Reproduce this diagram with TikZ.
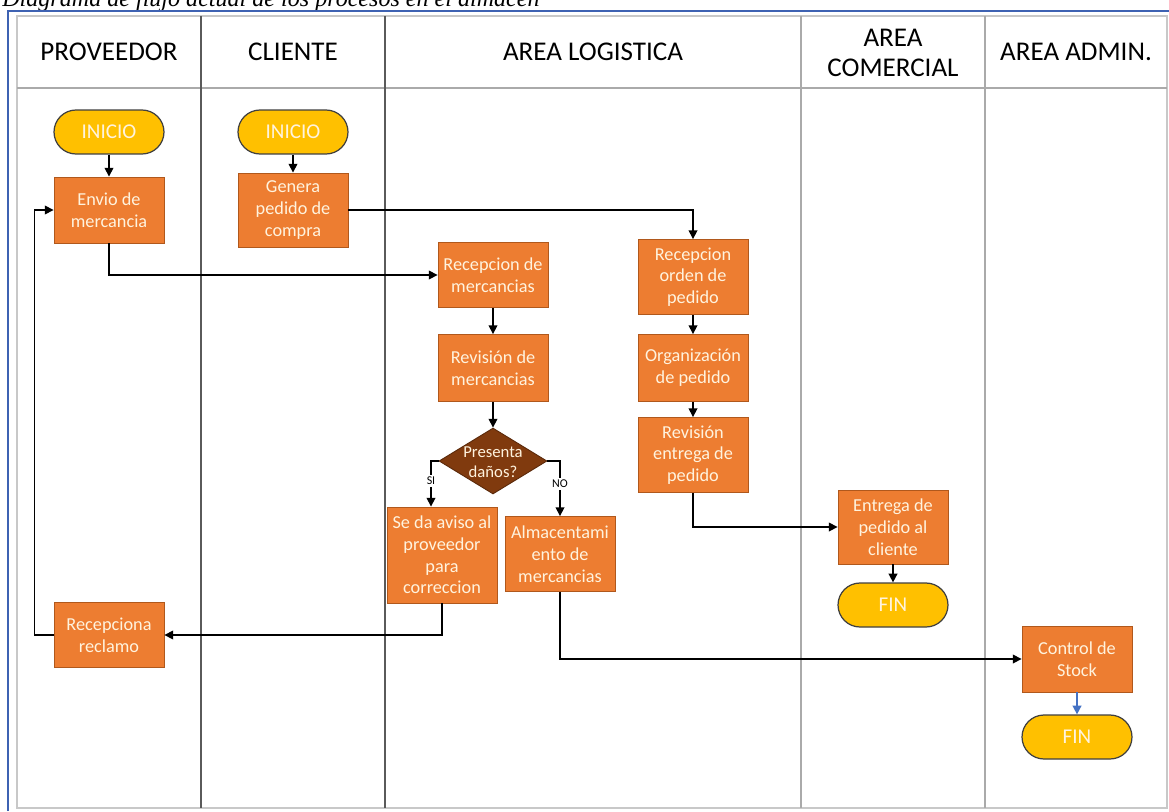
\documentclass[tikz,border=0pt]{standalone}
\usepackage{fontspec}
\setmainfont{Carlito}
\newfontfamily\captionfont{Liberation Serif}
\usetikzlibrary{shapes.geometric,arrows.meta,calc}

\definecolor{boxorange}{RGB}{237,125,49}
\definecolor{boxedge}{RGB}{176,88,28}
\definecolor{capsulefill}{RGB}{255,192,0}
\definecolor{decisionfill}{RGB}{128,58,14}
\definecolor{boxtext}{RGB}{255,243,222}
\definecolor{frameblue}{RGB}{62,98,178}
\definecolor{flowblue}{RGB}{68,114,196}
\definecolor{lanedark}{RGB}{90,90,90}
\definecolor{lanelight}{RGB}{170,170,170}
\definecolor{tableedge}{RGB}{200,200,200}

\tikzset{
  process/.style={rectangle, fill=boxorange, draw=boxedge, line width=0.5pt,
    minimum width=2.2cm, inner sep=0pt, align=center, text=boxtext,
    font=\fontsize{10.4}{12.4}\selectfont},
  terminal/.style={rectangle, rounded corners=0.44cm, fill=capsulefill,
    draw=black!75, line width=0.7pt, minimum width=2.2cm, minimum height=0.88cm,
    inner sep=0pt, text=boxtext, font=\fontsize{12}{14}\selectfont},
  decision/.style={diamond, fill=decisionfill, draw=decisionfill!70!black,
    line width=0.5pt, minimum width=2.16cm, minimum height=1.32cm, inner sep=0pt},
  decisiontext/.style={inner sep=0pt, align=center, text=boxtext,
    font=\fontsize{9.5}{11.2}\selectfont},
  lanehead/.style={inner sep=0pt, align=center, font=\fontsize{15.4}{17.5}\selectfont},
  branchlabel/.style={fill=white, inner sep=1pt, font=\fontsize{6.8}{8}\selectfont},
  flow/.style={-{Triangle[length=5pt,width=5pt]}, line width=0.85pt, draw=black},
  flowb/.style={-{Triangle[length=5pt,width=5pt]}, line width=0.85pt, draw=flowblue}
}

\begin{document}
\begin{tikzpicture}[x=0.02cm,y=-0.02cm]
  \useasboundingbox (0,0) rectangle (1169,811);
  \fill[white] (0,0) rectangle (1169,811);

  % caption above the frame
  \node[anchor=base west, inner sep=0pt,
        font=\captionfont\itshape\fontsize{13.7}{16}\selectfont] (caption) at (2,7)
        {Diagrama de flujo actual de los procesos en el almacén};

  % blue frame (top and left)
  \draw[frameblue, line width=1.4pt] (8,811) -- (8,11) -- (1169,11);

  % swimlane table
  \draw[tableedge, line width=0.6pt] (17,16) rectangle (1167,808);
  \draw[lanelight, line width=0.6pt] (17,88) -- (1167,88);
  \draw[lanedark, line width=0.7pt] (201,16) -- (201,808);
  \draw[lanedark, line width=0.7pt] (385,16) -- (385,808);
  \draw[lanelight, line width=0.7pt] (801,16) -- (801,808);
  \draw[lanelight, line width=0.7pt] (985,16) -- (985,808);

  % lane headers
  \node[lanehead] (hprov) at (109,52) {PROVEEDOR};
  \node[lanehead] (hcli) at (293,52) {CLIENTE};
  \node[lanehead] (hlog) at (593,52) {AREA LOGISTICA};
  \node[lanehead] (hcom) at (893,53) {AREA\\COMERCIAL};
  \node[lanehead] (hadm) at (1076,52) {AREA ADMIN.};

  % PROVEEDOR lane
  \node[terminal] (ini1) at (109,132) {INICIO};
  \node[process, minimum height=1.32cm] (env) at (109,210) {Envio de\\mercancia};
  \node[process, minimum height=1.3cm] (recl) at (109,635) {Recepciona\\reclamo};

  % CLIENTE lane
  \node[terminal] (ini2) at (293,132) {INICIO};
  \node[process, minimum height=1.48cm] (gen) at (293,210) {Genera\\pedido de\\compra};

  % AREA LOGISTICA lane
  \node[process, minimum height=1.3cm] (recm) at (493,275) {Recepcion de\\mercancias};
  \node[process, minimum height=1.34cm] (revm) at (493,368) {Revisión de\\mercancias};
  \node[decision] (dia) at (493,461) {};
  \node[decisiontext] (diatext) at (493,462) {Presenta\\daños?};
  \node[process, minimum height=1.92cm] (aviso) at (442,555) {Se da aviso al\\proveedor\\para\\correccion};
  \node[process, minimum height=1.5cm] (alm) at (560,554) {Almacentami\\ento de\\mercancias};
  \node[process, minimum height=1.5cm] (reco) at (693,277) {Recepcion\\orden de\\pedido};
  \node[process, minimum height=1.34cm] (org) at (693,368) {Organización\\de pedido};
  \node[process, minimum height=1.5cm] (reve) at (693,455) {Revisión\\entrega de\\pedido};

  % AREA COMERCIAL lane
  \node[process, minimum height=1.48cm] (ent) at (893,527) {Entrega de\\pedido al\\cliente};
  \node[terminal] (fin1) at (893,605) {FIN};

  % AREA ADMIN. lane
  \node[process, minimum height=1.32cm] (ctrl) at (1077,659) {Control de\\Stock};
  \node[terminal] (fin2) at (1077,737) {FIN};

  % connectors
  \draw[flow] (ini1) -- (env);
  \draw[flow] (ini2) -- (gen);
  \draw[flow] (env.south) |- (recm.west);
  \draw[flow] (gen.east) -| (reco.north);
  \draw[flow] (recm) -- (revm);
  \draw[flow] (revm) -- (dia);
  \draw[flow] (dia.west) -| ($(aviso.north)+(-11,0)$);
  \draw[flow] (dia.east) -| (alm.north);
  \draw[flow] (aviso.south) |- (recl.east);
  \draw[flow] (recl.west) -- ++(-19,0) |- (env.west);
  \draw[flow] (alm.south) |- (ctrl.west);
  \draw[flow] (reco) -- (org);
  \draw[flow] (org) -- (reve);
  \draw[flow] (reve.south) |- (ent.west);
  \draw[flow] (ent) -- (fin1);
  \draw[flowb] (ctrl) -- (fin2);

  % branch labels
  \node[branchlabel] (lsi) at (431,481) {SI};
  \node[branchlabel] (lno) at (560,484) {NO};
\end{tikzpicture}
\end{document}
